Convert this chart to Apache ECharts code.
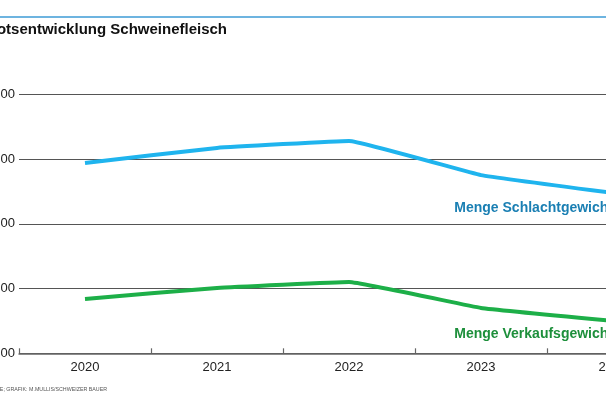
<!DOCTYPE html>
<html><head><meta charset="utf-8">
<script src="https://cdn.jsdelivr.net/npm/echarts@6/dist/echarts.min.js"></script>
<style>html,body{margin:0;padding:0;background:#fff}#c{width:606px;height:402px}</style>
</head><body><div id="c"></div>
<script>
const years = ['2020','2021','2022','2023','2024'];
const schlachtgewicht = [223500, 229300, 232000, 218800, 211900];
const verkaufsgewicht = [171000, 175200, 177500, 167500, 162500];
const seriesNames = ['Menge Schlachtgewicht', 'Menge Verkaufsgewicht'];
const titleText = 'Angebotsentwicklung Schweinefleisch';
const sourceText = 'QUELLE: PROVIANDE; GRAFIK: M.MULLIS/SCHWEIZER BAUER';
const yMin = 150000, yMax = 250000, yStep = 25000;

const font = 'Liberation Sans, Arial, sans-serif';
function withEndLabel(arr, name, color, dy){
  return arr.map((v,i)=> i===arr.length-1 ? {value:v, label:{show:true, position:'bottom', align:'right', offset:[0,dy], formatter:name, color:color, fontWeight:'bold', fontSize:14, fontFamily:font}} : v);
}
const chart = echarts.init(document.getElementById('c'), null, {renderer:'canvas'});
chart.setOption({
  animation:false,
  grid:{left:19, top:94.3, width:660, height:259, containLabel:false, outerBoundsMode:'none'},
  xAxis:{type:'category', data:years, boundaryGap:true,
    axisLine:{lineStyle:{color:'#666', width:1.5}},
    axisTick:{show:true, inside:true, length:5, lineStyle:{color:'#666', width:1.2}},
    axisLabel:{color:'#222', fontSize:13, fontFamily:font, margin:8}},
  yAxis:{type:'value', min:yMin, max:yMax, interval:yStep,
    axisLine:{show:false}, axisTick:{show:false},
    splitLine:{lineStyle:{color:'#555', width:1.2}},
    axisLabel:{color:'#222', fontSize:13, fontFamily:font, margin:4,
      formatter:v=>String(v).replace(/\B(?=(\d{3})+(?!\d))/g,' ')}},
  series:[
    {name:seriesNames[0], type:'line', data:withEndLabel(schlachtgewicht, seriesNames[0], '#1a7fb3', 3),
      symbol:'circle', symbolSize:0, showSymbol:true, smooth:0.08,
      lineStyle:{color:'#1fb4ee', width:4}, itemStyle:{color:'#1fb4ee'}},
    {name:seriesNames[1], type:'line', data:withEndLabel(verkaufsgewicht, seriesNames[1], '#1d8f3b', 1),
      symbol:'circle', symbolSize:0, showSymbol:true, smooth:0.08,
      lineStyle:{color:'#1daf48', width:4}, itemStyle:{color:'#1daf48'}}
  ],
  graphic:[
    {type:'line', shape:{x1:0,y1:17,x2:606,y2:17}, style:{stroke:'#3d9bd6', lineWidth:1.5}},
    {type:'text', x:227, y:30, style:{text:titleText, font:'bold 15px '+font, fill:'#111', align:'right', verticalAlign:'middle'}},
    {type:'text', x:107, y:390, style:{text:sourceText, font:'5.3px '+font, fill:'#555', align:'right', verticalAlign:'middle'}}
  ]
});
</script></body></html>
